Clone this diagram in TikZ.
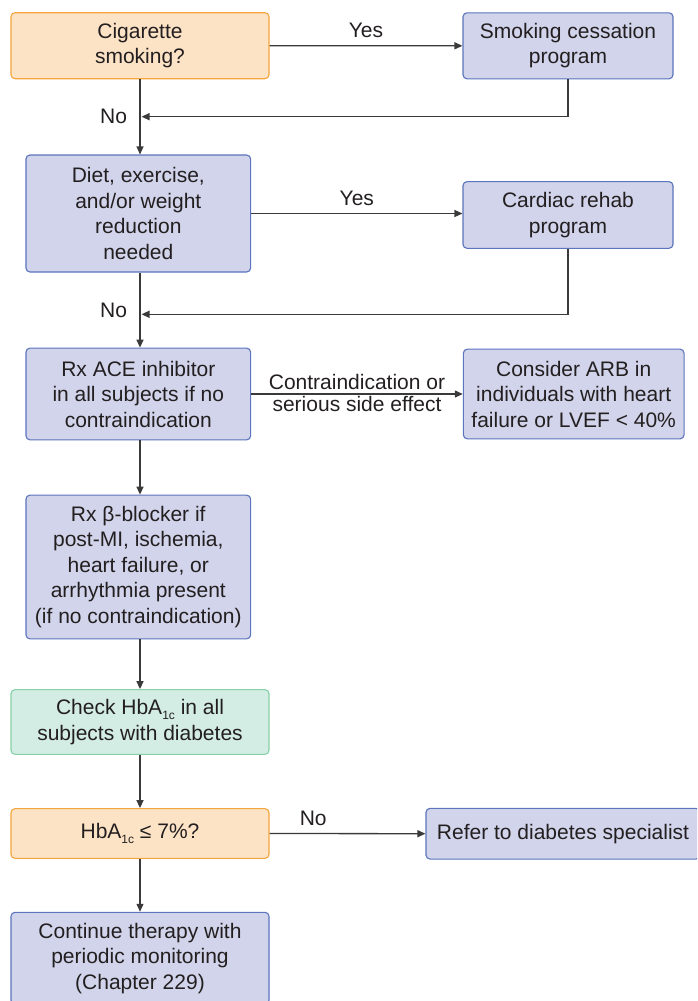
\documentclass[tikz,border=0pt]{standalone}
\usepackage{fontspec}
\setmainfont{Liberation Sans}
\usetikzlibrary{arrows.meta}

\definecolor{ink}{HTML}{231F20}
\definecolor{wire}{HTML}{3A3A3A}
\definecolor{askfill}{HTML}{FDE3C6}
\definecolor{askline}{HTML}{F5A53E}
\definecolor{dofill}{HTML}{D1D4EA}
\definecolor{doline}{HTML}{5B74BD}
\definecolor{labfill}{HTML}{D3EDE4}
\definecolor{labline}{HTML}{88D1A8}

% small lowered index, as in HbA1c
\newcommand{\lowsub}[1]{\raisebox{-5pt}{\fontsize{12}{12}\selectfont #1}}

\begin{document}
\begin{tikzpicture}[x=1pt, y=-1pt,
  box/.style={draw, rounded corners=4pt, line width=1.1pt, align=center,
    inner sep=0pt, text=ink, font=\fontsize{21}{25.5}\selectfont},
  ask/.style={box, draw=askline, fill=askfill},
  act/.style={box, draw=doline, fill=dofill},
  lab/.style={box, draw=labline, fill=labfill},
  arr/.style={draw=wire, line width=1.3pt, -{Triangle[length=8pt,width=7pt]}},
  tag/.style={text=ink, font=\fontsize{21}{24}\selectfont}]
\clip (0,0) rectangle (697,1001);

\node[ask, minimum width=258pt, minimum height=66pt] (1) at (140,45.7) {Cigarette\\smoking?};
\node[act, minimum width=210pt, minimum height=66pt] (2) at (568,45.8) {Smoking cessation\\program};
\node[act, minimum width=224.7pt, minimum height=117pt] (3) at (138.3,213.5) {Diet, exercise,\\and/or weight\\reduction\\needed};
\node[act, minimum width=210pt, minimum height=66.7pt] (4) at (568,215) {Cardiac rehab\\program};
\node[act, minimum width=224.7pt, minimum height=91.7pt] (5) at (138.3,394) {Rx ACE inhibitor\\in all subjects if no\\contraindication};
\node[act, minimum width=220.7pt, minimum height=89.7pt] (6) at (573.7,394) {Consider ARB in\\individuals with heart\\failure or LVEF < 40\%};
\node[act, minimum width=224.7pt, minimum height=143.7pt] (7) at (138.3,567) {Rx β-blocker if\\post-MI, ischemia,\\heart failure, or\\arrhythmia present\\(if no contraindication)};
\node[lab, minimum width=258pt, minimum height=64.7pt] (8) at (140,722) {Check HbA\lowsub{1c} in all\\subjects with diabetes};
\node[ask, minimum width=258pt, minimum height=49.7pt] (9) at (140,833.5) {HbA\lowsub{1c} ≤ 7\%?};
\node[act, minimum width=274pt, minimum height=50.7pt] (10) at (563,833.7) {Refer to diabetes specialist};
\node[act, minimum width=258pt, minimum height=92pt] (11) at (140,958.3) {Continue therapy with\\periodic monitoring\\(Chapter 229)};

% return points on the main line
\coordinate (r1) at (141.5,116.7);
\coordinate (r2) at (141.5,314.3);

\path[arr] (1.south) -- node[tag, midway, left=9pt] {No} (1.south |- 3.north);
\path[arr] (1.east) -- node[tag, midway, above=4pt] {Yes} (2.west);
\path[arr] (2.south) |- (r1);
\path[arr] (3.east) -- node[tag, midway, above=4pt] {Yes} (3.east -| 4.west);
\path[arr] (3.south -| 1) -- node[tag, midway, left=9pt] {No} (5.north -| 1);
\path[arr] (4.south) |- (r2);
\path[arr] (5.east) -- node[tag, midway, above=0pt] {Contraindication or}
  node[tag, midway, below=-2pt] {serious side effect} (6.west);
\path[arr] (5.south -| 1) -- (7.north -| 1);
\path[arr] (7.south -| 1) -- (8.north);
\path[arr] (8.south) -- (9.north);
\path[arr] (9.east) -- node[tag, pos=0.28, above=4pt] {No} (10.west);
\path[arr] (9.south) -- (11.north);
\end{tikzpicture}
\end{document}
